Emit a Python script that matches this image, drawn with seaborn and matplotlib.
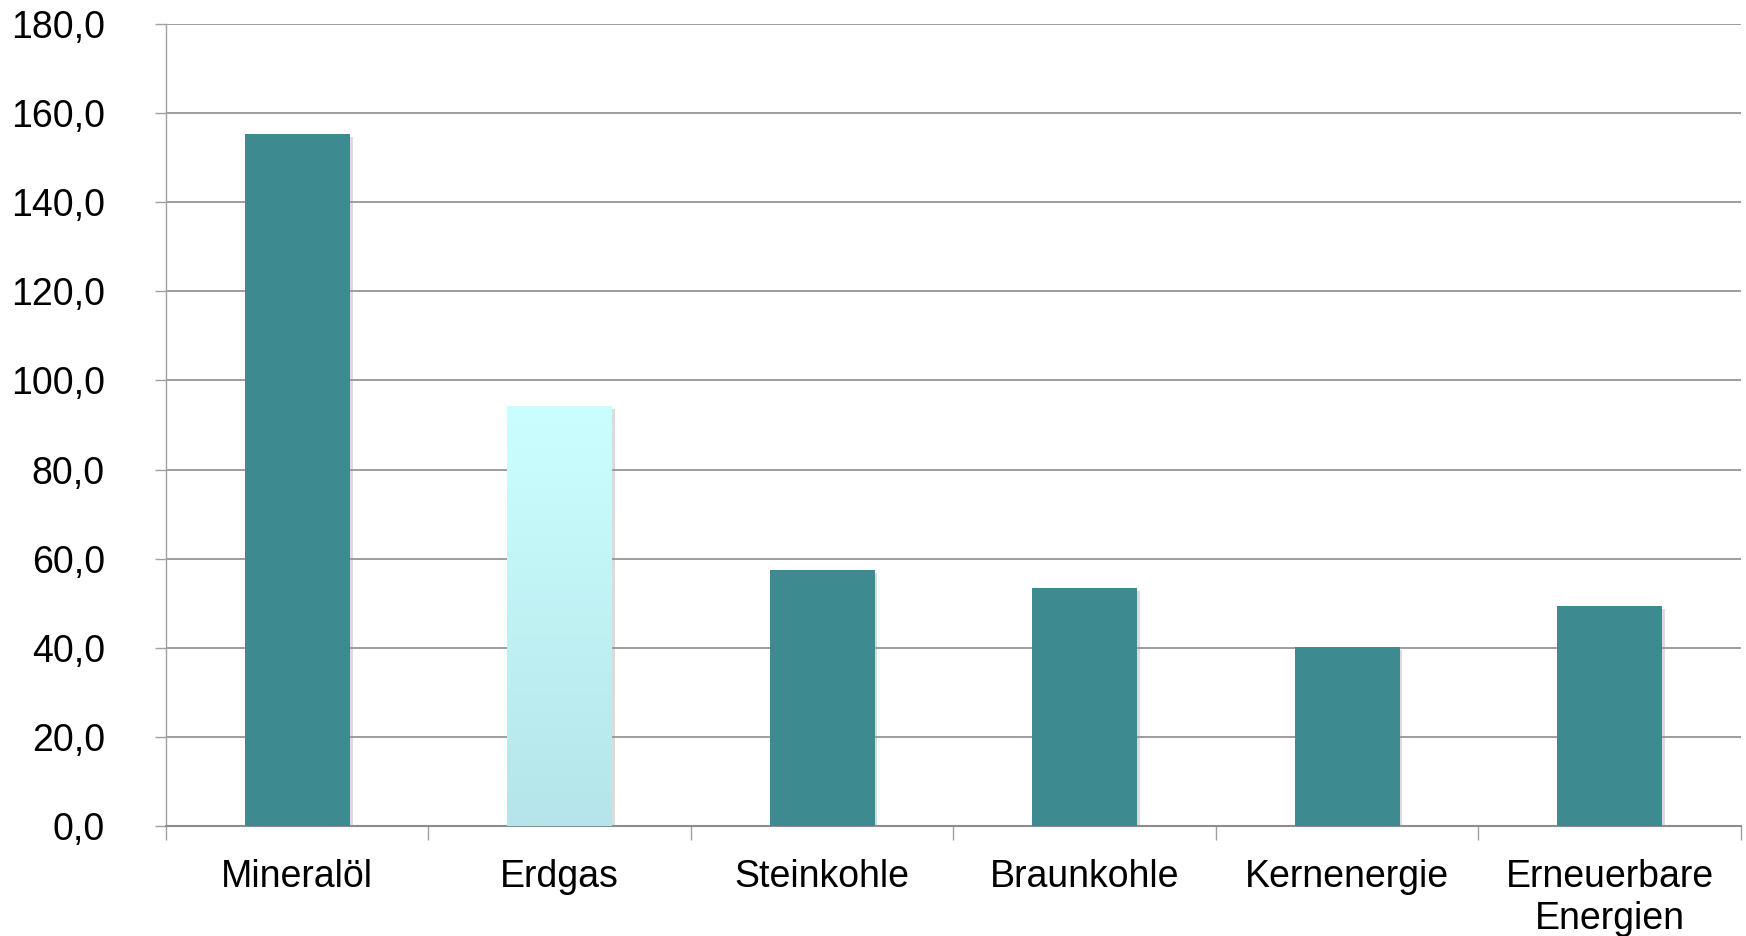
import numpy as np
import pandas as pd
import matplotlib
matplotlib.use("Agg")
import matplotlib.pyplot as plt
import matplotlib.patheffects as pe
from matplotlib.ticker import FixedLocator, FuncFormatter
import seaborn as sns

categories = ["Mineralöl", "Erdgas", "Steinkohle", "Braunkohle", "Kernenergie", "Erneuerbare\nEnergien"]
values = [155.3, 94.3, 57.5, 53.4, 40.2, 49.4]
y_ticks = [0, 20, 40, 60, 80, 100, 120, 140, 160, 180]

teal = "#3D8B91"
bar_colors = [teal, "#C2F4F6", teal, teal, teal, teal]
grid_color = "#8C8C8C"

sns.set_theme(style="white")
plt.rcParams["font.family"] = ["Liberation Sans", "DejaVu Sans"]

fig = plt.figure(figsize=(17.46, 9.36), dpi=100)
ax = fig.add_axes([0.0951, 0.1175, 0.9019, 0.8569])

df = pd.DataFrame({"cat": categories, "val": values})
sns.barplot(data=df, x="cat", y="val", hue="cat", palette=bar_colors,
            width=0.4, legend=False, ax=ax, saturation=1, zorder=3, linewidth=0)

ax.set_ylim(0, 180)
ax.set_xlim(-0.5, len(categories) - 0.5)
ax.set_xlabel("")
ax.set_ylabel("")

ax.yaxis.set_major_locator(FixedLocator(y_ticks))
ax.yaxis.set_major_formatter(FuncFormatter(lambda v, p: f"{v:.1f}".replace(".", ",")))
ax.grid(axis="y", color=grid_color, linewidth=1.2, zorder=0)
ax.set_axisbelow(True)

for s in ["top", "right"]:
    ax.spines[s].set_visible(False)
ax.spines["left"].set_color("#A0A0A0")
ax.spines["left"].set_linewidth(1.0)
ax.spines["bottom"].set_color(grid_color)
ax.spines["bottom"].set_linewidth(1.5)

ax.tick_params(axis="y", which="major", length=8, width=1.0, color="#A0A0A0",
               labelsize=27, pad=36, labelcolor="#000000", left=True)
ax.tick_params(axis="x", which="major", length=0, labelsize=27, pad=24, labelcolor="#000000")
ax.xaxis.set_minor_locator(FixedLocator(np.arange(-0.5, len(categories), 1.0)))
ax.tick_params(axis="x", which="minor", length=10, width=1.0, color="#A0A0A0", bottom=True)
for t in ax.get_xticklabels():
    t.set_linespacing(1.2)

patches = [p for p in ax.patches]
for i, p in enumerate(patches):
    p.set_path_effects([pe.SimplePatchShadow(offset=(2, -2), shadow_rgbFace="#999999", alpha=0.35), pe.Normal()])
    if i == 1:
        x0, y0 = p.get_x(), p.get_y()
        w, h = p.get_width(), p.get_height()
        grad = np.linspace(0, 1, 256).reshape(-1, 1)
        top = np.array(matplotlib.colors.to_rgb("#CBFFFF"))
        bot = np.array(matplotlib.colors.to_rgb("#B5E5EA"))
        img = top[None, None, :] * (1 - grad[..., None]) + bot[None, None, :] * grad[..., None]
        im = ax.imshow(img, extent=[x0, x0 + w, y0, y0 + h], aspect="auto", zorder=3.5, origin="upper")
        im.set_clip_path(p)

ax.set_xlim(-0.5, len(categories) - 0.5)
ax.set_ylim(0, 180)

fig.savefig("out.png", dpi=100, facecolor="white")
